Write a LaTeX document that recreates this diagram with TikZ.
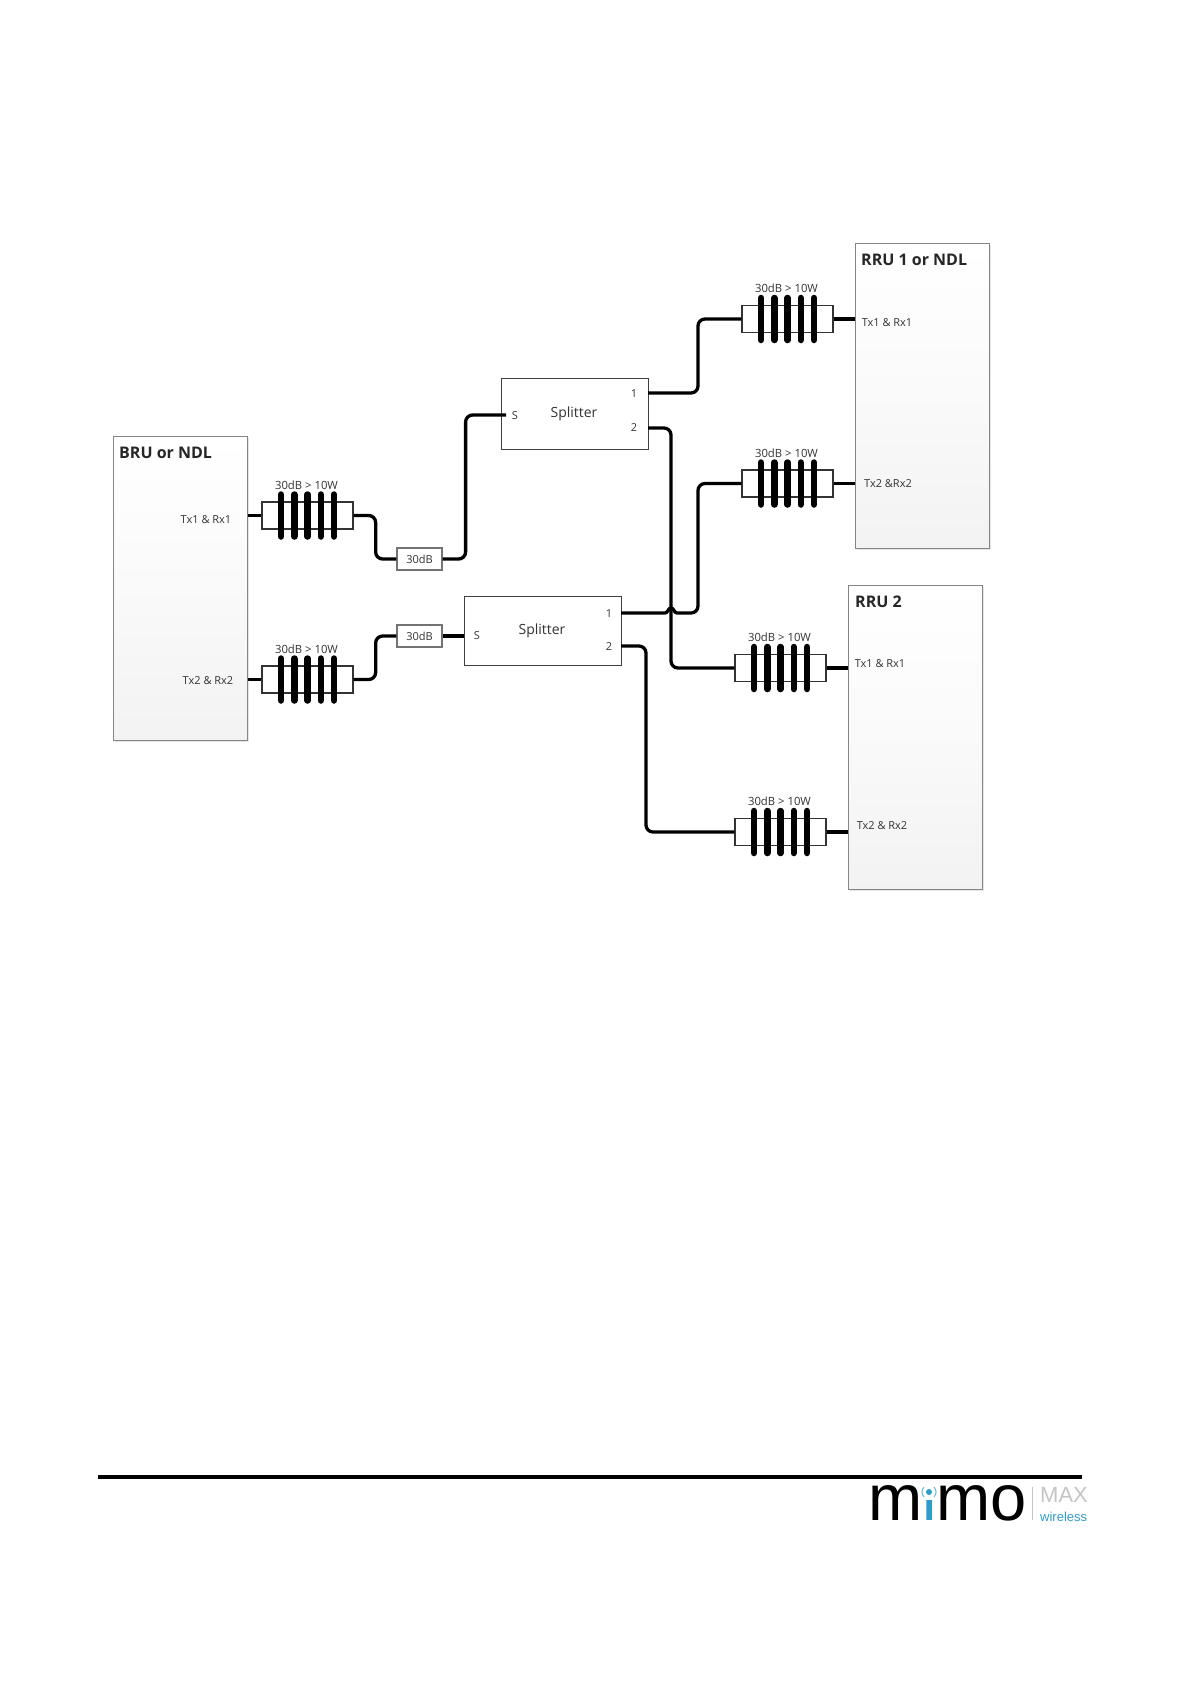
\documentclass[tikz,border=0pt]{standalone}
\usepackage{fontspec}
\setmainfont{Open Sans}
\newfontfamily\logofont{Liberation Sans}
\usetikzlibrary{shadows}

\definecolor{framegray}{HTML}{858585}
\definecolor{labelgray}{HTML}{333333}
\definecolor{logoblue}{HTML}{2E9CC8}
\definecolor{logogray}{HTML}{C4C4C4}

\tikzset{
  unitbox/.style={draw=framegray, line width=1.2pt, inner sep=0pt, anchor=north west,
    top color=white, bottom color=black!5, middle color=white!98!black,
    drop shadow={shadow xshift=1.5pt, shadow yshift=-1.5pt, opacity=0.2}},
  unittitle/.style={anchor=west, inner sep=0pt, text=black!85, font=\fontsize{16}{18}\selectfont\bfseries},
  portlabel/.style={inner sep=0pt, text=labelgray, font=\fontsize{11}{13}\selectfont},
  splitbox/.style={draw=black!75, line width=1.2pt, fill=white, inner sep=0pt, anchor=north west},
  splitlabel/.style={inner sep=0pt, text=labelgray, font=\fontsize{14}{16}\selectfont},
  padbox/.style={draw=black!55, line width=1.2pt, fill=white, inner sep=0pt, minimum width=45pt, minimum height=22pt, text=labelgray, font=\fontsize{11}{13}\selectfont},
  attbox/.style={draw=black!80, line width=1.3pt, fill=white, inner sep=0pt, minimum width=91pt, minimum height=27pt},
  attlabel/.style={inner sep=0pt, text=labelgray, font=\fontsize{11.3}{13}\selectfont},
  fin/.style={line width=6.5pt, line cap=round},
  wire/.style={line width=3.3pt, rounded corners=7pt}
}

\begin{document}
\begin{tikzpicture}[x=1pt, y=-1pt]

        % Fix the page size
        \useasboundingbox (0,0) rectangle (1191,1684);

        % Draw the three outer units
        \node[unitbox, minimum width=134pt, minimum height=304.5pt] (BruBox) at (112.5,435.5) {};
        \node[unitbox, minimum width=134pt, minimum height=304.5pt] (RruOneBox) at (855,243) {};
        \node[unitbox, minimum width=134pt, minimum height=304.5pt] (RruTwoBox) at (848,584.5) {};

        \node[unittitle] (BruTitle) at (119,453) {BRU or NDL};
        \node[unittitle] (RruOneTitle) at (861,260) {RRU 1 or NDL};
        \node[unittitle] (RruTwoTitle) at (855,602) {RRU 2};

        \node[portlabel] (BruPortOne) at (206,520) {Tx1 \& Rx1};
        \node[portlabel] (BruPortTwo) at (208,681) {Tx2 \& Rx2};
        \node[portlabel] (RruOnePortOne) at (887,323) {Tx1 \& Rx1};
        \node[portlabel] (RruOnePortTwo) at (888,484) {Tx2 \&Rx2};
        \node[portlabel] (RruTwoPortOne) at (880,664) {Tx1 \& Rx1};
        \node[portlabel] (RruTwoPortTwo) at (882,826) {Tx2 \& Rx2};

        % Draw the two splitters and their ports
        \node[splitbox, minimum width=147pt, minimum height=71pt] (SplitterTop) at (501,378) {};
        \node[splitbox, minimum width=157pt, minimum height=69pt] (SplitterLow) at (464,596) {};

        \node[splitlabel] (SplitterTopName) at (574,414) {Splitter};
        \node[splitlabel] (SplitterLowName) at (542,631) {Splitter};

        \node[portlabel] (TopLabelS) at (515,416) {S};
        \node[portlabel] (TopLabelOne) at (634,394) {1};
        \node[portlabel] (TopLabelTwo) at (634,428) {2};
        \node[portlabel] (LowLabelS) at (477,636) {S};
        \node[portlabel] (LowLabelOne) at (609,614) {1};
        \node[portlabel] (LowLabelTwo) at (609,647) {2};

        \coordinate (TopPortS) at (506,415);
        \coordinate (TopPortOne) at (648,393);
        \coordinate (TopPortTwo) at (648,428);
        \coordinate (LowPortOne) at (621,613);
        \coordinate (LowPortTwo) at (621,646);

        % Draw the two fixed pads
        \node[padbox] (PadTop) at (419.5,559) {30dB\hspace{3pt}};
        \node[padbox] (PadLow) at (419.5,636) {30dB\hspace{3pt}};

        % Draw the finned attenuators
        \foreach \name/\cx/\cy in {AttBruOne/307.5/515.5, AttBruTwo/307.5/679.5,
            AttRruOneA/787.5/319, AttRruOneB/787.5/483.5,
            AttRruTwoA/780.5/668, AttRruTwoB/780.5/832} {
          \node[attbox] (\name) at (\cx,\cy) {};
          \node[attlabel] (\name Label) at (\cx-1,\cy-30.5) {30dB > 10W};
          \foreach \dx in {-26.5,-13.25,0,13.25,26.5}
            \draw[fin] ({\cx+\dx},{\cy-21}) -- ({\cx+\dx},{\cy+21});
        }

        % Connect the units, the pads and the splitters
        \draw[wire] (BruBox.east |- AttBruOne) -- (AttBruOne.west);
        \draw[wire] (BruBox.east |- AttBruTwo) -- (AttBruTwo.west);
        \draw[wire] (AttBruOne.east) -- ++(22,0) |- (PadTop.west);
        \draw[wire] (AttBruTwo.east) -- ++(22,0) |- (PadLow.west);
        \draw[wire] (PadTop.east) -- ++(23,0) |- (TopPortS);
        \draw[wire] (PadLow.east) -- (SplitterLow.west |- PadLow);

        \draw[wire] (TopPortOne) -- ++(50,0) |- (AttRruOneA.west);
        \draw[wire] (TopPortTwo) -- ++(23,0) |- (AttRruTwoA.west);
        \draw[wire] (LowPortTwo) -- ++(25,0) |- (AttRruTwoB.west);

        % The lower splitter line hops over the vertical line
        \draw[line width=3.3pt] (LowPortOne) -- ++(44,0) to[out=0,in=180] ++(6,-5) to[out=0,in=180] ++(6,5)
            [rounded corners=7pt] -- ++(21,0) |- (AttRruOneB.west);

        \draw[wire] (AttRruOneA.east) -- (RruOneBox.west |- AttRruOneA);
        \draw[wire] (AttRruOneB.east) -- (RruOneBox.west |- AttRruOneB);
        \draw[wire] (AttRruTwoA.east) -- (RruTwoBox.west |- AttRruTwoA);
        \draw[wire] (AttRruTwoB.east) -- (RruTwoBox.west |- AttRruTwoB);

        % Draw the logo under the footer rule
        \node[anchor=base west, inner sep=0pt, font=\fontsize{65}{65}\logofont] (LogoText) at (868,1520) {m\textcolor{logoblue}{i}mo};
        \fill[white] (923,1470) rectangle (936,1500);
        \fill[logoblue] (929,1492) circle (3pt);
        \draw[logoblue!70, line width=1pt] (924,1497) arc (135:225:7);
        \draw[logoblue!70, line width=1pt] (934,1487) arc (-45:45:7);
        \draw[black, line width=4pt] (98,1477) -- (1082,1477);
        \draw[logogray, line width=1pt] (1032,1487) -- (1032,1520);
        \node[anchor=base west, inner sep=0pt, text=logogray, font=\fontsize{22}{24}\logofont] (LogoMax) at (1040,1502) {MAX};
        \node[anchor=base west, inner sep=0pt, text=logoblue, font=\fontsize{13}{15}\logofont] (LogoWireless) at (1040,1521) {wireless};

      \end{tikzpicture}
\end{document}
